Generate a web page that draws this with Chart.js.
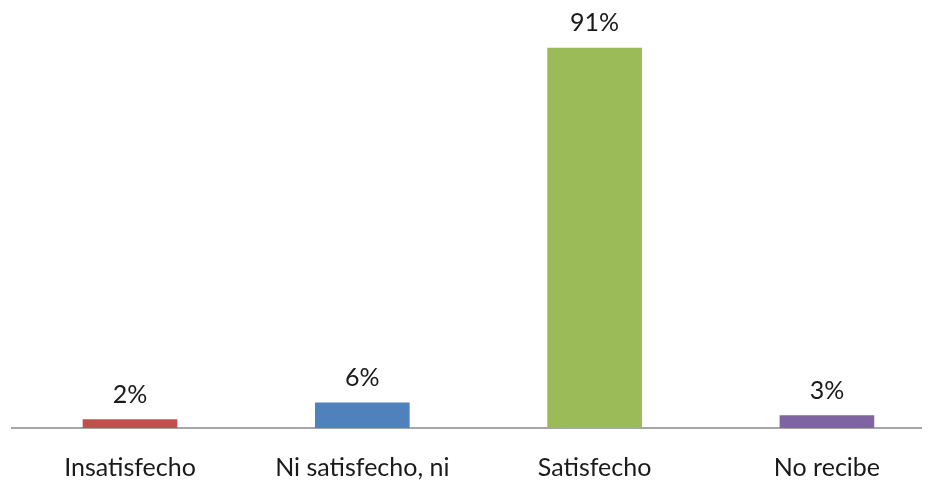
<!DOCTYPE html>
<html>
<head>
<meta charset="utf-8">
<script src="https://cdn.jsdelivr.net/npm/chart.js@4"></script>
<style>
  body { margin: 0; background: #fff; }
  #wrap { width: 933px; height: 489px; }
</style>
</head>
<body>
<div id="wrap"><canvas id="chart1"></canvas></div>
<script>
// data
const categories = ['Insatisfecho', 'Ni satisfecho, ni', 'Satisfecho', 'No recibe'];
const values = [2, 6, 91, 3];
const barColors = ['#C0504D', '#4F81BD', '#9BBB59', '#8064A2'];

const fontFamily = 'Lato, "Open Sans", sans-serif';

// percentage labels above bars
const valueLabels = {
    id: 'valueLabels',
    afterDatasetsDraw(chart) {
        const ctx = chart.ctx;
        const meta = chart.getDatasetMeta(0);
        ctx.save();
        ctx.font = '25px ' + fontFamily;
        ctx.fillStyle = '#1a1a1a';
        ctx.textAlign = 'center';
        ctx.textBaseline = 'middle';
        meta.data.forEach(function(bar, i) {
            ctx.fillText(values[i] + '%', bar.x, bar.y - 25);
        });
        ctx.restore();
    }
};

const points = values.map(function(v, i) { return { x: i, y: v }; });

const ctx = document.getElementById('chart1').getContext('2d');
const myChart = new Chart(ctx, {
    type: 'bar',
    data: {
        datasets: [{
            data: points,
            backgroundColor: barColors,
            barThickness: 94
        }]
    },
    options: {
        responsive: true,
        maintainAspectRatio: false,
        animation: false,
        layout: { padding: { left: 12, right: 12, top: 0, bottom: 0 } },
        plugins: {
            legend: { display: false },
            tooltip: { enabled: false }
        },
        scales: {
            x: {
                type: 'linear',
                offset: false,
                min: -0.508,
                max: 3.405,
                grid: { display: false, drawTicks: false, offset: false },
                border: { display: true, color: '#a6a6a6', width: 2 },
                afterFit: function(scale) { scale.height = 61; },
                ticks: {
                    stepSize: 1,
                    includeBounds: false,
                    autoSkip: false,
                    maxRotation: 0,
                    padding: 25,
                    color: '#1a1a1a',
                    font: { family: fontFamily, size: 25 },
                    callback: function(value) {
                        return Number.isInteger(value) ? categories[value] : '';
                    }
                }
            },
            y: {
                display: false,
                min: 0,
                max: 102.5
            }
        }
    },
    plugins: [valueLabels]
});
</script>
</body>
</html>
